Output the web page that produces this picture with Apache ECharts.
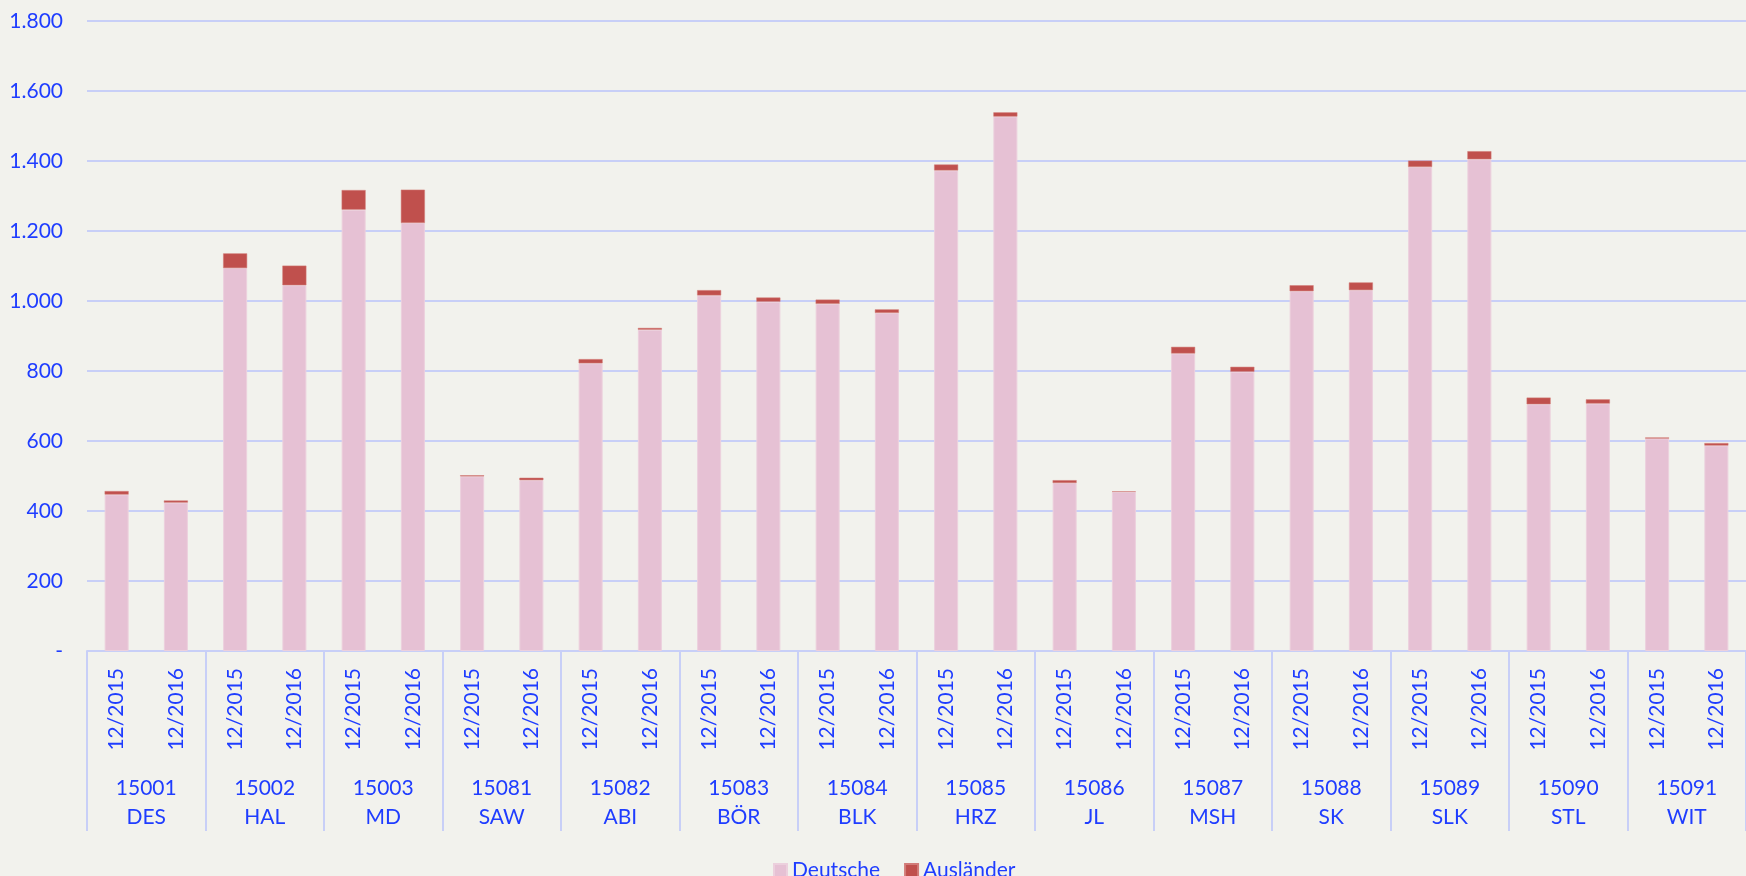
<!DOCTYPE html>
<html>
<head>
<meta charset="utf-8">
<script src="https://cdn.jsdelivr.net/npm/echarts@6/dist/echarts.min.js"></script>
<style>
  html, body { margin: 0; padding: 0; background: #f2f2ed; }
  #main { width: 1746px; height: 876px; }
</style>
</head>
<body>
<div id="main"></div>
<script>
// Kreise (Code + Kürzel) und Stichtage
var codes = ['15001','15002','15003','15081','15082','15083','15084','15085','15086','15087','15088','15089','15090','15091'];
var names = ['DES','HAL','MD','SAW','ABI','BÖR','BLK','HRZ','JL','MSH','SK','SLK','STL','WIT'];
var periods = ['12/2015','12/2016'];

// je Kreis: 12/2015, 12/2016
var deutsche   = [447, 424, 1094, 1045, 1261, 1223, 499, 488, 822, 918, 1016, 998, 992, 966,
                  1373, 1527, 480, 455, 850, 798, 1028, 1031, 1383, 1405, 705, 707, 607, 587];
var auslaender = [10, 6, 42, 56, 56, 95, 3, 7, 12, 5, 15, 12, 12, 10,
                  17, 12, 8, 1, 19, 14, 17, 22, 18, 23, 19, 12, 3, 7];

var yTicks = { min: 0, max: 1800, interval: 200 };

var blue = '#1f3dff';
var gridColor = '#c8cff7';
var font = 'Lato';

var periodLabels = [];
var groupLabels = [];
for (var i = 0; i < codes.length; i++) {
    groupLabels.push(codes[i] + '\n' + names[i]);
    for (var j = 0; j < periods.length; j++) {
        periodLabels.push(periods[j]);
    }
}

function fmt(v) {
    if (v === 0) return '-';
    return String(v).replace(/\B(?=(\d{3})+(?!\d))/g, '.');
}

var myChart = echarts.init(document.getElementById('main'));

var option = {
    backgroundColor: '#f2f2ed',
    animation: false,
    textStyle: { fontFamily: font },
    grid: { left: 87, right: -11, top: 21, bottom: 225 },
    legend: {
        data: ['Deutsche', 'Ausländer'],
        left: 768,
        top: 855,
        icon: 'rect',
        itemWidth: 13,
        itemHeight: 13,
        itemGap: 24,
        textStyle: { color: blue, fontSize: 21, fontFamily: font }
    },
    xAxis: [
        {
            type: 'category',
            data: periodLabels,
            position: 'bottom',
            axisLine: { lineStyle: { color: gridColor, width: 2 } },
            axisTick: { show: false },
            axisLabel: {
                interval: 0,
                rotate: 90,
                margin: 17,
                color: blue,
                fontSize: 21,
                fontFamily: font
            }
        },
        {
            type: 'category',
            data: groupLabels,
            position: 'bottom',
            axisLine: { show: false },
            axisTick: {
                show: true,
                interval: 0,
                length: 180,
                lineStyle: { color: gridColor, width: 2 }
            },
            axisLabel: {
                interval: 0,
                margin: 123,
                color: blue,
                fontSize: 21,
                lineHeight: 29,
                fontFamily: font
            }
        }
    ],
    yAxis: {
        type: 'value',
        min: yTicks.min,
        max: yTicks.max,
        interval: yTicks.interval,
        axisLine: { show: false },
        axisTick: { show: false },
        splitLine: { lineStyle: { color: gridColor, width: 2 } },
        axisLabel: {
            margin: 24,
            color: blue,
            fontSize: 21,
            fontFamily: font,
            formatter: fmt
        }
    },
    series: [
        {
            name: 'Deutsche',
            type: 'bar',
            stack: 'total',
            xAxisIndex: 0,
            barWidth: 24,
            data: deutsche,
            itemStyle: { color: '#e6c1d4', borderColor: '#ecd0dd', borderWidth: 1 }
        },
        {
            name: 'Ausländer',
            type: 'bar',
            stack: 'total',
            xAxisIndex: 0,
            barWidth: 24,
            data: auslaender,
            itemStyle: { color: '#c0504d', borderColor: '#d27c79', borderWidth: 0.5 }
        }
    ]
};

myChart.setOption(option);
</script>
</body>
</html>
